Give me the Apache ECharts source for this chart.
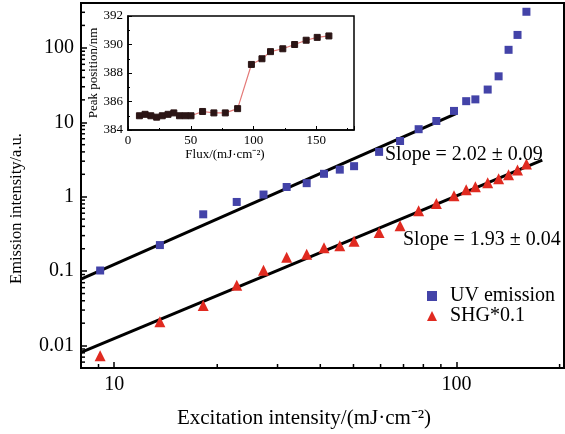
<!DOCTYPE html>
<html>
<head>
<meta charset="utf-8">
<script src="https://cdn.jsdelivr.net/npm/echarts@6/dist/echarts.min.js"></script>
<style>
  html, body { margin: 0; padding: 0; background: #fff; }
  #chart { width: 565px; height: 434px; }
</style>
</head>
<body>
<div id="chart"></div>
<script>
// excitation flux (mJ/cm2), shared by main plot and inset
var flux = [9.1, 13.6, 18.2, 22.8, 27.3, 31.9, 36.5, 41, 45.6, 50.2, 59.4, 68.4, 77.5, 87.3, 98.3, 106.7, 113.5, 123.3, 132.7, 141.9, 150.7, 160];
var uvEmission = [0.102, 0.224, 0.58, 0.85, 1.07, 1.35, 1.52, 2.03, 2.31, 2.57, 4.0, 5.6, 8.07, 10.4, 14.2, 19.2, 20.3, 27.5, 41.4, 94, 149, 305];
var shg = [0.0073, 0.0209, 0.0345, 0.0645, 0.103, 0.154, 0.169, 0.207, 0.22, 0.253, 0.331, 0.407, 0.65, 0.81, 1.03, 1.24, 1.36, 1.54, 1.74, 1.97, 2.29, 2.75];
var uvFit = [[8, 0.078], [100, 13.2]];
var shgFit = [[8, 0.0081], [178, 3.1]];
var peakPos = [385.0, 385.1, 385.0, 384.9, 385.0, 385.1, 385.2, 385.0, 385.0, 385.0, 385.3, 385.2, 385.2, 385.5, 388.6, 389.0, 389.5, 389.7, 390.0, 390.3, 390.5, 390.6];

var xMinorTicks = [9, 20, 30, 40, 50, 60, 70, 80, 90, 200];
var yMinorTicks = [0.006, 0.007, 0.008, 0.009, 0.02, 0.03, 0.04, 0.05, 0.06, 0.07, 0.08, 0.09,
  0.2, 0.3, 0.4, 0.5, 0.6, 0.7, 0.8, 0.9, 2, 3, 4, 5, 6, 7, 8, 9,
  20, 30, 40, 50, 60, 70, 80, 90, 200, 300];

var X_MIN = 8, X_MAX = 206, Y_MIN = 0.005, Y_MAX = 400;
var FONT = 'Liberation Serif';

function zip(a, b) { return a.map(function (v, i) { return [v, b[i]]; }); }

var chart = echarts.init(document.getElementById('chart'));

var option = {
  animation: false,
  backgroundColor: '#fff',
  textStyle: { fontFamily: FONT, color: '#000' },
  grid: [
    { left: 81, top: 3, right: 1, bottom: 65, show: true, borderColor: '#000', borderWidth: 2 },
    { left: 128, top: 16, right: 211, bottom: 304, show: true, borderColor: '#000', borderWidth: 1.5, backgroundColor: '#fff', z: 10 }
  ],
  xAxis: [
    {
      type: 'log', gridIndex: 0, min: X_MIN, max: X_MAX,
      name: 'Excitation intensity/(mJ·cm⁻²)', nameLocation: 'middle', nameGap: 40,
      nameTextStyle: { fontFamily: FONT, fontSize: 21, color: '#000', padding: [0, 37, 0, 0] },
      axisLine: { lineStyle: { color: '#000', width: 2 } },
      axisTick: { inside: true, length: 6, lineStyle: { color: '#000', width: 1.5 } },
      axisLabel: { fontFamily: FONT, fontSize: 20, color: '#000', margin: 7, showMinLabel: false, showMaxLabel: false },
      splitLine: { show: false }
    },
    {
      type: 'value', gridIndex: 1, min: 0, max: 180, interval: 50,
      name: 'Flux/(mJ·cm⁻²)', nameLocation: 'middle', nameGap: 18,
      nameTextStyle: { fontFamily: FONT, fontSize: 13, color: '#000', padding: [0, 32, 0, 0] },
      axisLine: { lineStyle: { color: '#000', width: 1.5 } },
      axisTick: { inside: true, length: 4, lineStyle: { color: '#000' } },
      minorTick: { show: true, splitNumber: 2, length: 2, lineStyle: { color: '#000' } },
      axisLabel: { fontFamily: FONT, fontSize: 13, color: '#000', margin: 4, showMaxLabel: false },
      splitLine: { show: false }, z: 10
    }
  ],
  yAxis: [
    {
      type: 'log', gridIndex: 0, min: Y_MIN, max: Y_MAX,
      name: 'Emission intensity/a.u.', nameLocation: 'middle', nameGap: 56,
      nameTextStyle: { fontFamily: FONT, fontSize: 16.5, color: '#000', padding: [0, 46, 0, 0] },
      axisLine: { lineStyle: { color: '#000', width: 2 } },
      axisTick: { inside: true, length: 6, lineStyle: { color: '#000', width: 1.5 } },
      axisLabel: { fontFamily: FONT, fontSize: 20, color: '#000', margin: 7, showMinLabel: false, showMaxLabel: false },
      splitLine: { show: false }
    },
    {
      type: 'value', gridIndex: 1, min: 384, max: 392, interval: 2,
      name: 'Peak position/nm', nameLocation: 'middle', nameGap: 27,
      nameTextStyle: { fontFamily: FONT, fontSize: 13, color: '#000' },
      axisLine: { lineStyle: { color: '#000', width: 1.5 } },
      axisTick: { inside: true, length: 4, lineStyle: { color: '#000' } },
      minorTick: { show: true, splitNumber: 2, length: 2, lineStyle: { color: '#000' } },
      axisLabel: { fontFamily: FONT, fontSize: 13, color: '#000', margin: 5 },
      splitLine: { show: false }, z: 10
    }
  ],
  legend: {
    orient: 'vertical', left: 427, top: 286, itemGap: 0, padding: 0,
    itemWidth: 10, itemHeight: 10,
    textStyle: { fontFamily: FONT, fontSize: 20, color: '#000', lineHeight: 18, padding: [0, 0, 0, 8] },
    data: [
      { name: 'UV emission', icon: 'rect' },
      { name: 'SHG*0.1', icon: 'triangle' }
    ]
  },
  graphic: [
    { type: 'text', left: 385, top: 145, style: { text: 'Slope = 2.02 ± 0.09', font: '20px "Liberation Serif"', fill: '#000' }, z: 20 },
    { type: 'text', left: 403, top: 230, style: { text: 'Slope = 1.93 ± 0.04', font: '20px "Liberation Serif"', fill: '#000' }, z: 20 }
  ],
  series: [
    {
      type: 'custom', xAxisIndex: 0, yAxisIndex: 0, silent: true,
      data: xMinorTicks.map(function (v) { return [v, Y_MIN]; }),
      renderItem: function (params, api) {
        var p = api.coord([api.value(0), Y_MIN]);
        return { type: 'line', shape: { x1: p[0], y1: p[1], x2: p[0], y2: p[1] - 4 }, style: { stroke: '#000', lineWidth: 1.5 } };
      }
    },
    {
      type: 'custom', xAxisIndex: 0, yAxisIndex: 0, silent: true,
      data: yMinorTicks.map(function (v) { return [X_MIN, v]; }),
      renderItem: function (params, api) {
        var p = api.coord([X_MIN, api.value(1)]);
        return { type: 'line', shape: { x1: p[0], y1: p[1], x2: p[0] + 4, y2: p[1] }, style: { stroke: '#000', lineWidth: 1.5 } };
      }
    },
    {
      name: 'UV fit', type: 'line', xAxisIndex: 0, yAxisIndex: 0, data: uvFit,
      showSymbol: false, lineStyle: { color: '#000', width: 3 }, z: 3
    },
    {
      name: 'SHG fit', type: 'line', xAxisIndex: 0, yAxisIndex: 0, data: shgFit,
      showSymbol: false, lineStyle: { color: '#000', width: 3 }, z: 3
    },
    {
      name: 'UV emission', type: 'scatter', xAxisIndex: 0, yAxisIndex: 0,
      data: zip(flux, uvEmission), symbol: 'rect', symbolSize: 8,
      itemStyle: { color: '#4343a8', opacity: 1 }, z: 4
    },
    {
      name: 'SHG*0.1', type: 'scatter', xAxisIndex: 0, yAxisIndex: 0,
      data: zip(flux, shg), symbol: 'triangle', symbolSize: 11,
      itemStyle: { color: '#e02a20', opacity: 1 }, z: 4
    },
    {
      name: 'Peak', type: 'line', xAxisIndex: 1, yAxisIndex: 1,
      data: zip(flux, peakPos), symbol: 'rect', symbolSize: 6, showSymbol: true,
      lineStyle: { color: '#e47a78', width: 1.2 },
      itemStyle: { color: '#2b1515', borderColor: '#2b1515' }, z: 12
    }
  ]
};

chart.setOption(option);
</script>
</body>
</html>
